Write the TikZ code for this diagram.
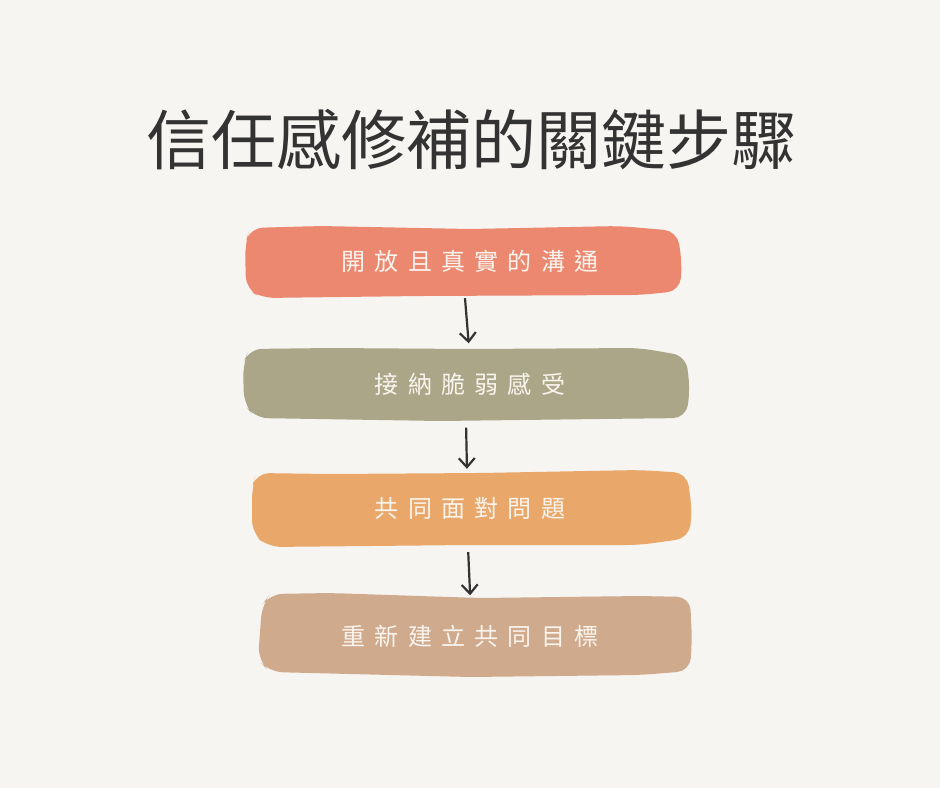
\documentclass[tikz,border=0pt]{standalone}
\usepackage{fontspec}
\setmainfont{Noto Sans CJK TC}
\newfontfamily\cjk{Noto Sans CJK TC}
\usetikzlibrary{arrows.meta}
\definecolor{bgc}{HTML}{F7F5F2}
\definecolor{titlec}{HTML}{333333}
\definecolor{cA}{HTML}{EC8870}
\definecolor{cB}{HTML}{ABA688}
\definecolor{cC}{HTML}{E9A86A}
\definecolor{cD}{HTML}{D0AA8D}
\definecolor{txtc}{HTML}{FAF4EE}
\newcommand{\gp}{\hspace{9.3pt}}
\tikzset{
  boxnode/.style={draw=none,fill=none,inner sep=0pt},
  steptext/.style={font=\cjk\fontsize{24}{28}\selectfont, text=txtc, inner sep=0pt},
  blob/.style={rounded corners=13pt},
  arr/.style={draw=titlec, line width=2.2pt, -{Straight Barb[length=9pt,width=16pt,line width=2.2pt]}}
}
\begin{document}
\begin{tikzpicture}[x=1pt,y=-1pt]
\fill[bgc] (0,0) rectangle (940,788);
\useasboundingbox (0,0) rectangle (940,788);
% title
\node[font=\cjk\fontsize{65}{72}\selectfont, text=titlec, inner sep=0pt] (title) at (471,140) {信任感修補的關鍵步驟};
% blobs
\fill[cA, blob] (245,244) -- (250,228) -- (320,226) -- (470,229) -- (620,226) -- (677,231) -- (682,262) -- (680,291) -- (640,295) -- (420,296) -- (262,298) -- (246,289) -- cycle;
\fill[cB, blob] (243,364) -- (249,349) -- (330,348) -- (470,349) -- (640,348) -- (686,356) -- (690,390) -- (686,418) -- (600,419) -- (440,421) -- (255,418) -- (244,404) -- cycle;
\fill[cC, blob] (252,488) -- (256,473) -- (330,474) -- (480,473) -- (640,470) -- (687,473) -- (692,510) -- (689,538) -- (640,545) -- (470,545) -- (268,547) -- (252,533) -- cycle;
\fill[cD, blob] (262,605) -- (270,594) -- (330,593) -- (480,598) -- (640,596) -- (690,597) -- (692,640) -- (690,671) -- (640,675) -- (470,677) -- (270,672) -- (258,660) -- cycle;
% box nodes
\node[boxnode, minimum width=437pt, minimum height=72pt] (b1) at (463.5,262) {};
\node[boxnode, minimum width=447pt, minimum height=74pt] (b2) at (466.5,384.5) {};
\node[boxnode, minimum width=441pt, minimum height=76pt] (b3) at (471.5,509) {};
\node[boxnode, minimum width=434pt, minimum height=84pt] (b4) at (475,634.5) {};
% texts
\node[steptext] (t1) at (470,261) {開\gp 放\gp 且\gp 真\gp 實\gp 的\gp 溝\gp 通};
\node[steptext] (t2) at (470,384) {接\gp 納\gp 脆\gp 弱\gp 感\gp 受};
\node[steptext] (t3) at (470,508) {共\gp 同\gp 面\gp 對\gp 問\gp 題};
\node[steptext] (t4) at (470,636) {重\gp 新\gp 建\gp 立\gp 共\gp 同\gp 目\gp 標};
% arrows
\draw[arr, shorten <=0pt, shorten >=4pt] ([xshift=1.5pt]b1.south) -- ([xshift=2.5pt]b2.north);
\draw[arr, shorten <=6pt, shorten >=2pt] ([xshift=-0.5pt]b2.south) -- ([xshift=-4.5pt]b3.north);
\draw[arr, shorten <=5pt, shorten >=-3pt] ([xshift=-3.5pt]b3.south) -- ([xshift=-5pt]b4.north);
\end{tikzpicture}
\end{document}
